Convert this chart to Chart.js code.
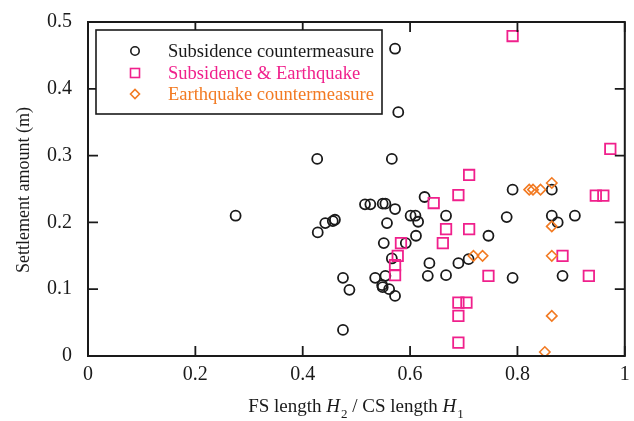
<!DOCTYPE html>
<html>
<head>
<meta charset="utf-8">
<script src="https://cdn.jsdelivr.net/npm/chart.js@4/dist/chart.umd.min.js"></script>
<style>
  html, body { margin: 0; padding: 0; background: #fff; }
  #wrap { width: 634px; height: 421px; }
</style>
</head>
<body>
<div id="wrap"><canvas id="c" width="634" height="421"></canvas></div>
<script>
// ---- Data ----
const seriesNames = ["Subsidence countermeasure", "Subsidence & Earthquake", "Earthquake countermeasure"];

const subsidenceX = [0.275, 0.427, 0.566, 0.572, 0.578, 0.791, 0.864, 0.627, 0.516, 0.526, 0.549, 0.554, 0.572,
  0.428, 0.442, 0.456, 0.460, 0.557, 0.601, 0.610, 0.615, 0.667, 0.611, 0.551, 0.592, 0.566, 0.636, 0.690,
  0.709, 0.746, 0.780, 0.864, 0.875, 0.907, 0.475, 0.487, 0.535, 0.554, 0.548, 0.549, 0.561, 0.572, 0.633,
  0.667, 0.791, 0.884, 0.475];
const subsidenceY = [0.210, 0.295, 0.295, 0.460, 0.365, 0.249, 0.249, 0.238, 0.227, 0.227, 0.228, 0.228, 0.220,
  0.185, 0.199, 0.202, 0.204, 0.199, 0.210, 0.210, 0.201, 0.210, 0.180, 0.169, 0.169, 0.146, 0.139, 0.139,
  0.145, 0.180, 0.208, 0.210, 0.200, 0.210, 0.117, 0.099, 0.117, 0.120, 0.106, 0.103, 0.100, 0.090, 0.120,
  0.121, 0.117, 0.120, 0.039];

const bothX = [0.791, 0.973, 0.710, 0.690, 0.644, 0.946, 0.960, 0.667, 0.710, 0.661, 0.583, 0.577, 0.572,
  0.572, 0.746, 0.884, 0.933, 0.690, 0.705, 0.690, 0.690];
const bothY = [0.479, 0.310, 0.271, 0.241, 0.229, 0.240, 0.240, 0.190, 0.190, 0.169, 0.169, 0.150, 0.136,
  0.121, 0.120, 0.150, 0.120, 0.080, 0.080, 0.060, 0.020];

const quakeX = [0.822, 0.829, 0.843, 0.864, 0.864, 0.864, 0.718, 0.735, 0.864, 0.851];
const quakeY = [0.249, 0.249, 0.249, 0.259, 0.194, 0.150, 0.150, 0.150, 0.060, 0.006];

const xTickValues = [0, 0.2, 0.4, 0.6, 0.8, 1];
const yTickValues = [0, 0.1, 0.2, 0.3, 0.4, 0.5];

const yTitle = "Settlement amount (m)";
const xTitleParts = [["FS length ", "n"], ["H", "i"], ["2", "s"], [" / CS length ", "n"], ["H", "i"], ["1", "s"]];

// ---- Styling ----
const SERIF = "'Liberation Serif', 'Times New Roman', serif";
const INK = "#1a1a1a";
const PINK = "#f0208c";
const ORANGE = "#f27a22";
Chart.defaults.font.family = SERIF;
Chart.defaults.color = INK;

function pts(xs, ys) { return xs.map((x, i) => ({ x: x, y: ys[i] })); }
function fmt(v) { return String(Number(Number(v).toFixed(2))); }

const framePlugin = {
  id: "frame",
  afterDatasetsDraw(chart) {
    const { ctx, chartArea: a, scales } = chart;
    ctx.save();
    ctx.strokeStyle = INK;
    ctx.lineWidth = 2;
    ctx.strokeRect(a.left, a.top, a.right - a.left, a.bottom - a.top);
    ctx.lineWidth = 1.8;
    const L = 10;
    ctx.beginPath();
    xTickValues.forEach(v => {
      const px = scales.x.getPixelForValue(v);
      ctx.moveTo(px, a.bottom); ctx.lineTo(px, a.bottom - L);
      ctx.moveTo(px, a.top); ctx.lineTo(px, a.top + L);
    });
    yTickValues.forEach(v => {
      const py = scales.y.getPixelForValue(v);
      ctx.moveTo(a.left, py); ctx.lineTo(a.left + L, py);
      ctx.moveTo(a.right, py); ctx.lineTo(a.right - L, py);
    });
    ctx.stroke();
    ctx.restore();
  },
  afterDraw(chart) {
    const ctx = chart.ctx;
    ctx.save();
    // Legend box
    ctx.fillStyle = "#fff";
    ctx.fillRect(96, 30, 286, 84);
    ctx.strokeStyle = INK;
    ctx.lineWidth = 1.6;
    ctx.strokeRect(96, 30, 286, 84);
    const mx = 135, rows = [51, 73, 94];
    const colors = [INK, PINK, ORANGE];
    ctx.lineWidth = 1.6;
    ctx.strokeStyle = colors[0];
    ctx.beginPath(); ctx.arc(mx, rows[0], 4.2, 0, Math.PI * 2); ctx.stroke();
    ctx.strokeStyle = colors[1];
    ctx.strokeRect(mx - 4.5, rows[1] - 4.5, 9, 9);
    ctx.strokeStyle = colors[2];
    ctx.beginPath();
    ctx.moveTo(mx - 4.5, rows[2]); ctx.lineTo(mx, rows[2] - 4.5);
    ctx.lineTo(mx + 4.5, rows[2]); ctx.lineTo(mx, rows[2] + 4.5); ctx.closePath(); ctx.stroke();
    ctx.font = "18.5px " + SERIF;
    ctx.textAlign = "left";
    ctx.textBaseline = "middle";
    seriesNames.forEach((n, i) => { ctx.fillStyle = colors[i]; ctx.fillText(n, 168, rows[i] + 1); });

    // Y title
    ctx.fillStyle = INK;
    ctx.save();
    ctx.translate(24, 190);
    ctx.rotate(-Math.PI / 2);
    ctx.textAlign = "center";
    ctx.textBaseline = "middle";
    ctx.font = "18px " + SERIF;
    ctx.fillText(yTitle, 0, 0);
    ctx.restore();

    // X title (with italic H and subscripts)
    const fonts = { n: "19px " + SERIF, i: "italic 19px " + SERIF, s: "13px " + SERIF };
    let total = 0;
    const widths = xTitleParts.map(([t, k]) => { ctx.font = fonts[k]; const w = ctx.measureText(t).width + (k === "s" ? 1 : 0); total += w; return w; });
    let x = 356 - total / 2;
    const base = 412;
    ctx.textAlign = "left";
    ctx.textBaseline = "alphabetic";
    xTitleParts.forEach(([t, k], i) => {
      ctx.font = fonts[k];
      ctx.fillText(t, x + (k === "s" ? 1 : 0), k === "s" ? base + 6 : base);
      x += widths[i];
    });
    ctx.restore();
  }
};

new Chart(document.getElementById("c"), {
  type: "scatter",
  data: {
    datasets: [
      { label: seriesNames[0], data: pts(subsidenceX, subsidenceY), pointStyle: "circle", radius: 5,
        borderColor: INK, backgroundColor: "rgba(0,0,0,0)", borderWidth: 1.8, order: 3 },
      { label: seriesNames[1], data: pts(bothX, bothY), pointStyle: "rect", radius: 7.4,
        borderColor: PINK, backgroundColor: "rgba(0,0,0,0)", borderWidth: 1.8, order: 2 },
      { label: seriesNames[2], data: pts(quakeX, quakeY), pointStyle: "rectRot", radius: 5.2,
        borderColor: ORANGE, backgroundColor: "rgba(0,0,0,0)", borderWidth: 1.6, order: 1 }
    ]
  },
  options: {
    responsive: false,
    animation: false,
    devicePixelRatio: 1,
    layout: { padding: { top: 22, right: 8, left: 0, bottom: 0 } },
    plugins: { legend: { display: false }, tooltip: { enabled: false } },
    scales: {
      x: {
        type: "linear", min: 0, max: 1,
        grid: { display: false, drawTicks: false }, border: { display: false },
        ticks: { stepSize: 0.2, font: { size: 20 }, color: INK, padding: 7, maxRotation: 0, callback: fmt },
        afterFit(s) { s.height = 65; s.paddingLeft = 0; s.paddingRight = 0; }
      },
      y: {
        type: "linear", min: 0, max: 0.5,
        grid: { display: false, drawTicks: false }, border: { display: false },
        ticks: { stepSize: 0.1, font: { size: 20 }, color: INK, padding: 16, callback: fmt },
        afterFit(s) { s.width = 88; s.paddingTop = 0; s.paddingBottom = 0; }
      }
    }
  },
  plugins: [framePlugin]
});
</script>
</body>
</html>
